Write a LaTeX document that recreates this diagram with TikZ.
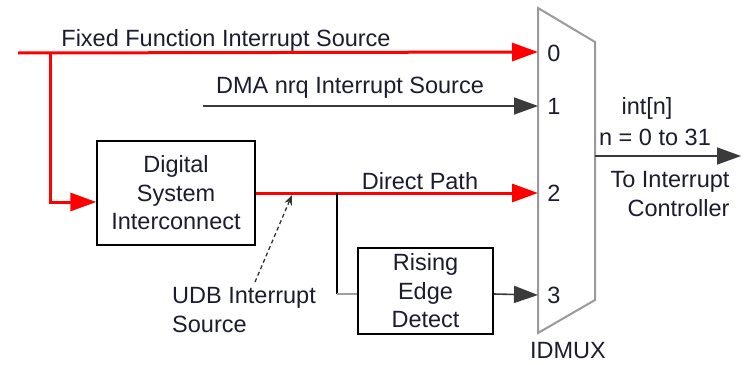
\documentclass[tikz,border=0pt]{standalone}
\usepackage{fontspec}
\setmainfont{Liberation Sans}
\usetikzlibrary{arrows.meta}
\definecolor{inkc}{HTML}{1C1C30}
\definecolor{wiregray}{HTML}{3A3A3A}
\definecolor{muxgray}{HTML}{9A9A9A}
\definecolor{lightwire}{HTML}{A0A0A0}
\begin{document}
\begin{tikzpicture}[x=1pt, y=-1pt,
  font=\fontsize{23.5}{28.5}\selectfont,
  every node/.style={text=inkc, inner sep=0pt},
  blockbox/.style={draw=black, line width=1.4pt, align=center},
  redwire/.style={draw=red, line width=3pt},
  redarrow/.style={redwire, -{Triangle[length=26pt, width=18pt]}},
  darkarrow/.style={draw=wiregray, line width=1.6pt, -{Triangle[length=24pt, width=17pt]}},
  blackwire/.style={draw=black, line width=1.5pt},
  graywire/.style={draw=lightwire, line width=1.8pt},
  muxlabel/.style={anchor=center}
]
\useasboundingbox (0,0) rectangle (754,364);

% interrupt multiplexer outline
\draw[muxgray, line width=2pt, line join=miter]
  (538,8) -- (595,42) -- (595,300) -- (538,333) -- cycle;
\coordinate (in0) at (538,52);
\coordinate (in1) at (538,106);
\coordinate (in2) at (538,193);
\coordinate (in3) at (538,295);
\coordinate (muxout) at (595,156);
\node[muxlabel] (l0) at (554,53) {0};
\node[muxlabel] (l1) at (554,106) {1};
\node[muxlabel] (l2) at (554,193) {2};
\node[muxlabel] (l3) at (554,295) {3};
\node (idmux) at (568,351) {IDMUX};

% blocks
\node[blockbox, minimum width=158pt, minimum height=104pt] (dsi) at (176,193)
  {Digital\\System\\Interconnect};
\node[blockbox, minimum width=135pt, minimum height=86pt] (red) at (425.5,291)
  {Rising\\Edge\\Detect};

% fixed function source
\coordinate (ffsrc) at (18,53);
\coordinate (ffbr) at (50,53);
\draw[redarrow] (ffsrc) -- (in0);
\draw[redarrow] (ffbr) |- ([yshift=-9pt]dsi.west);
\node (fftxt) at (226,40) {Fixed Function Interrupt Source};

% DMA source
\coordinate (dmasrc) at (203,106);
\draw[darkarrow] (dmasrc) -- (in1);
\node (dmatxt) at (350,88) {DMA nrq Interrupt Source};

% direct path
\draw[redarrow] (dsi.east) -- (in2);
\node (dptxt) at (420,181) {Direct Path};

% rising edge branch
\coordinate (dpbr) at (337,193);
\coordinate (dpdown) at (337,294);
\draw[blackwire] (dpbr) -- (dpdown);
\draw[graywire] (dpdown) -- ([yshift=-3pt]red.west);
\draw[darkarrow] ([yshift=-3pt]red.east) -- (in3);

% UDB interrupt source
\node[align=left, anchor=west] (udb) at (172,310) {UDB Interrupt\\Source};
\coordinate (udbstart) at (255,282);
\coordinate (udbtip) at (292,195);
\draw[black!80, line width=1.3pt, dash pattern=on 4pt off 3pt, -{Stealth[length=10pt, width=8pt]}] (udbstart) -- (udbtip);

% output
\coordinate (outend) at (741,156);
\draw[darkarrow] (muxout) -- (outend);
\node (inttxt) at (647,108) {int[n]};
\node (ntxt) at (655,137) {n = 0 to 31};
\node[align=right] (totxt) at (670,194) {To Interrupt\\Controller};
\end{tikzpicture}
\end{document}
